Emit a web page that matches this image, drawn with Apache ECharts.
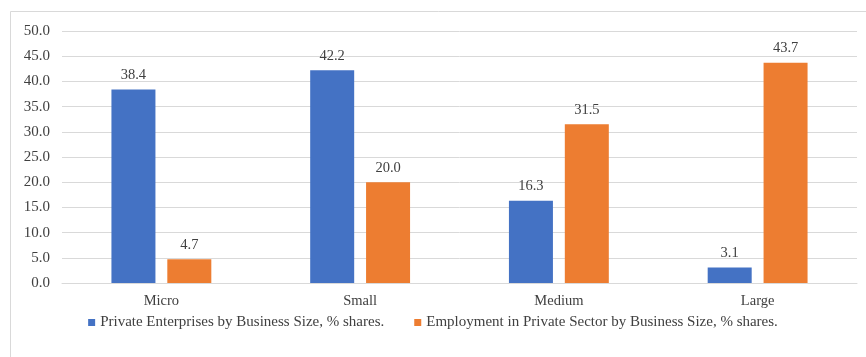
<!DOCTYPE html>
<html>
<head>
<meta charset="utf-8">
<script src="https://cdn.jsdelivr.net/npm/echarts@6/dist/echarts.min.js"></script>
<style>
html,body{margin:0;padding:0;background:#fff;}
#chart{width:866px;height:357px;}
</style>
</head>
<body>
<div id="chart"></div>
<script>
// Business size categories and their % shares
const categories = ['Micro', 'Small', 'Medium', 'Large'];
const enterpriseShares = [38.4, 42.2, 16.3, 3.1];
const employmentShares = [4.7, 20.0, 31.5, 43.7];
const seriesNames = [
  'Private Enterprises by Business Size, % shares.',
  'Employment in Private Sector by Business Size, % shares.'
];

const FONT = '"Liberation Serif", "DejaVu Serif", serif';
const TEXT = '#404040';

const chart = echarts.init(document.getElementById('chart'));

const labelOpt = {
  show: true,
  position: 'top',
  distance: 7,
  color: TEXT,
  fontFamily: FONT,
  fontSize: 14.5,
  formatter: p => p.value.toFixed(1)
};

chart.setOption({
  animation: false,
  backgroundColor: '#ffffff',
  textStyle: { fontFamily: FONT },
  graphic: [
    { type: 'line', shape: { x1: 10.5, y1: 11.5, x2: 866, y2: 11.5 }, style: { stroke: '#d9d9d9', lineWidth: 1 } },
    { type: 'line', shape: { x1: 10.5, y1: 11.5, x2: 10.5, y2: 357 }, style: { stroke: '#d9d9d9', lineWidth: 1 } }
  ],
  legend: {
    bottom: 22,
    left: 'center',
    itemWidth: 7,
    itemHeight: 7,
    itemGap: 30,
    icon: 'rect',
    textStyle: { color: TEXT, fontFamily: FONT, fontSize: 15 },
    data: seriesNames
  },
  grid: { left: 62, right: 9, top: 31, bottom: 74 },
  xAxis: {
    type: 'category',
    data: categories,
    axisLine: { show: true, lineStyle: { color: '#d9d9d9' } },
    axisTick: { show: false },
    axisLabel: { color: TEXT, fontFamily: FONT, fontSize: 14.5, margin: 11 }
  },
  yAxis: {
    type: 'value',
    min: 0,
    max: 50,
    interval: 5,
    axisLine: { show: false },
    axisTick: { show: false },
    splitLine: { lineStyle: { color: '#d9d9d9' } },
    axisLabel: {
      color: TEXT, fontFamily: FONT, fontSize: 15, margin: 12,
      formatter: v => v.toFixed(1)
    }
  },
  series: [
    {
      name: seriesNames[0],
      type: 'bar',
      data: enterpriseShares,
      barWidth: 44,
      barGap: '27%',
      itemStyle: { color: '#4472C4' },
      label: labelOpt
    },
    {
      name: seriesNames[1],
      type: 'bar',
      data: employmentShares,
      barWidth: 44,
      itemStyle: { color: '#ED7D31' },
      label: labelOpt
    }
  ]
});
</script>
</body>
</html>
